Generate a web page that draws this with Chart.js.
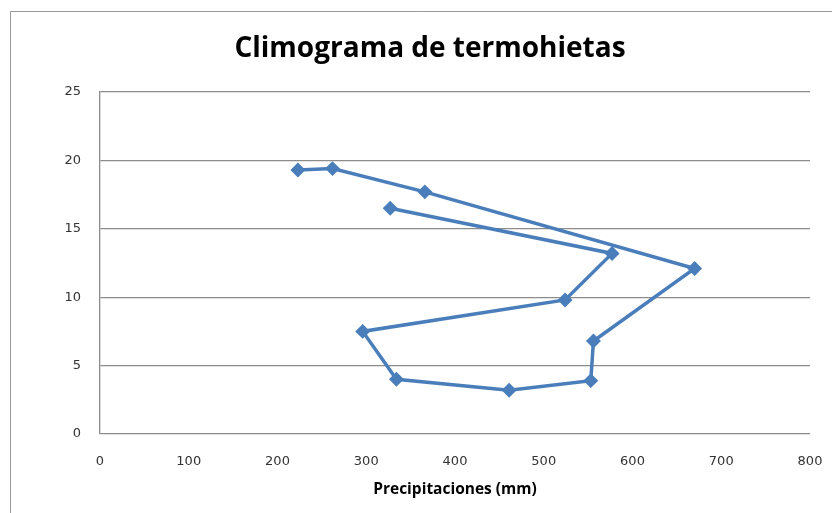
<!DOCTYPE html>
<html>
<head>
<meta charset="utf-8">
<script src="https://cdn.jsdelivr.net/npm/chart.js@4"></script>
<style>
  html, body { margin: 0; padding: 0; background: #ffffff; }
  #wrap { width: 832px; height: 513px; }
</style>
</head>
<body>
<div id="wrap"><canvas id="c" width="832" height="513"></canvas></div>
<script>
// Monthly climate values, January to December
const months = ['Ene', 'Feb', 'Mar', 'Abr', 'May', 'Jun', 'Jul', 'Ago', 'Sep', 'Oct', 'Nov', 'Dic'];
const precipitation = [223, 262, 366, 670, 556, 553, 461, 334, 296, 524, 577, 327];   // mm
const temperature   = [19.3, 19.4, 17.7, 12.1, 6.8, 3.9, 3.2, 4.0, 7.5, 9.8, 13.2, 16.5]; // °C
const xTicks = [0, 100, 200, 300, 400, 500, 600, 700, 800];
const yTicks = [0, 5, 10, 15, 20, 25];
const chartTitle = 'Climograma de termohietas';

const points = months.map((m, i) => ({ x: precipitation[i], y: temperature[i] }));

// Thin grey frame around the whole chart, plus the heading above the plot
const frameAndHeading = {
  id: 'frameAndHeading',
  beforeDraw(chart) {
    const ctx = chart.ctx;
    ctx.save();
    ctx.strokeStyle = '#9a9a9a';
    ctx.lineWidth = 1;
    ctx.beginPath();
    ctx.moveTo(10.5, 513);
    ctx.lineTo(10.5, 11.5);
    ctx.lineTo(832, 11.5);
    ctx.stroke();

    ctx.fillStyle = '#000000';
    ctx.font = 'bold 28px "Open Sans"';
    ctx.textAlign = 'center';
    ctx.textBaseline = 'alphabetic';
    ctx.fillText(chartTitle, 430, 57);
    ctx.restore();
  }
};

new Chart(document.getElementById('c'), {
  type: 'scatter',
  data: {
    datasets: [{
      label: 'Climograma',
      data: points,
      showLine: true,
      borderColor: '#4a7ebb',
      backgroundColor: '#4a7ebb',
      borderWidth: 3.5,
      pointStyle: 'rectRot',
      pointRadius: 5,
      pointHoverRadius: 5,
      tension: 0
    }]
  },
  options: {
    responsive: false,
    animation: false,
    layout: { padding: { left: 10, right: 22, top: 92, bottom: 0 } },
    plugins: {
      legend: { display: false },
      tooltip: { enabled: false },
      title: { display: false }
    },
    scales: {
      x: {
        type: 'linear',
        min: 0, max: 800,
        afterBuildTicks(scale) { scale.ticks = xTicks.map(v => ({ value: v })); },
        afterFit(scale) {
          scale.height = 79;
          scale.paddingLeft = 0;
          scale.paddingRight = 0;
        },
        grid: { display: false, drawTicks: false },
        border: { display: false },
        ticks: {
          padding: 20,
          color: '#333333',
          font: { family: 'DejaVu Sans', size: 13 }
        },
        title: {
          display: true,
          text: 'Precipitaciones (mm)',
          color: '#000000',
          font: { family: 'Open Sans', size: 15.5, weight: 'bold' },
          padding: { top: 0, bottom: 14 }
        }
      },
      y: {
        type: 'linear',
        min: 0, max: 25,
        afterBuildTicks(scale) { scale.ticks = yTicks.map(v => ({ value: v })); },
        afterFit(scale) { scale.width = 90; },
        grid: { color: '#8c8c8c', lineWidth: 1.3, drawTicks: false },
        border: { display: true, color: '#8c8c8c', width: 1.3 },
        ticks: {
          padding: 19,
          color: '#333333',
          font: { family: 'DejaVu Sans', size: 13 }
        }
      }
    }
  },
  plugins: [frameAndHeading]
});
</script>
</body>
</html>
